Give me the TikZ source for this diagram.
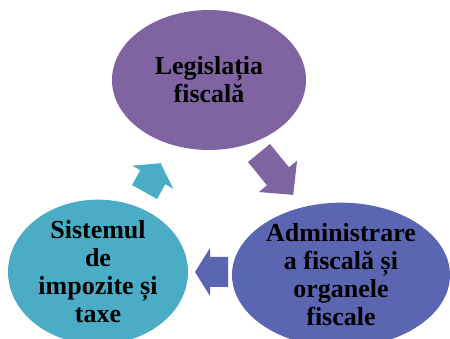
\documentclass[tikz,border=0pt]{standalone}
\usepackage{fontspec}
\setmainfont{Liberation Serif}
\usetikzlibrary{shapes.geometric}
\definecolor{cpurple}{HTML}{8064A2}
\definecolor{cblue}{HTML}{5A66B2}
\definecolor{cteal}{HTML}{4BACC6}
\tikzset{
  bubble/.style={ellipse, inner sep=0pt, align=center, text=black,
    font=\bfseries\fontsize{26}{28}\selectfont},
  blockarrow/.style={draw=none}
}
\begin{document}
\begin{tikzpicture}[x=1pt,y=-1pt]
\useasboundingbox (0,0) rectangle (450,339);
\fill[white] (0,0) rectangle (450,339);
% ellipses
\node[bubble, fill=cpurple, minimum width=194pt, minimum height=140pt] (leg) at (209,80) {Legislația\\fiscală};
\node[bubble, fill=cblue, minimum width=218pt, minimum height=144pt] (adm) at (341,275) {Administrare\\a fiscală și\\organele\\fiscale};
\node[bubble, fill=cteal, minimum width=180pt, minimum height=140pt] (sis) at (98,272) {Sistemul\\de\\impozite și\\taxe};
% block arrows
\fill[cpurple, blockarrow] (248,162) -- (270,144) -- (289,167.3) -- (297.1,160.6) -- (293.2,194.9) -- (258.9,192) -- (267,185.3) -- cycle;
\fill[cblue, blockarrow] (228,257) -- (228,287) -- (210,287) -- (210,296) -- (195,272) -- (210,248) -- (210,257) -- cycle;
\fill[cteal, blockarrow] (132,185) -- (157,199) -- (165.3,184.2) -- (173.3,188.7) -- (160.6,163.2) -- (132.3,165.7) -- (140.3,170.2) -- cycle;
\end{tikzpicture}
\end{document}
